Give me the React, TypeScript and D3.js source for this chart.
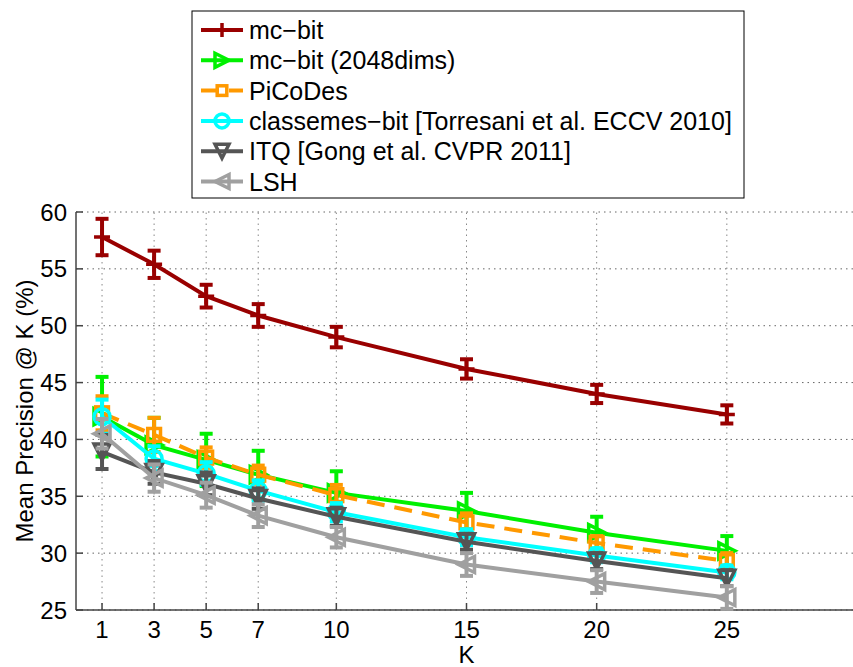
import React from 'react';
import * as d3 from 'd3';

const K = [1, 3, 5, 7, 10, 15, 20, 25];
const mcBit = [57.8, 55.4, 52.6, 50.9, 49.0, 46.2, 44.0, 42.2];
const mcBitErr = [1.6, 1.2, 1.0, 1.0, 0.9, 0.85, 0.8, 0.8];
const mcBit2048 = [42.0, 39.5, 38.2, 36.9, 35.3, 33.7, 31.8, 30.2];
const mcBit2048Err = [3.5, 2.4, 2.3, 2.1, 1.9, 1.6, 1.4, 1.3];
const picodes = [42.3, 40.4, 38.4, 36.9, 35.1, 32.7, 30.9, 29.3];
const picodesErr = [1.5, 1.5, 0.9, 0.8, 0.9, 0.8, 0.6, 0.7];
const classemes = [42.0, 38.3, 37.0, 35.5, 33.6, 31.4, 29.8, 28.3];
const classemesErr = [1.5, 1.1, 1.0, 0.9, 0.8, 0.7, 0.6, 0.6];
const itq = [38.9, 37.1, 36.1, 34.8, 33.2, 31.0, 29.3, 27.8];
const itqErr = [1.5, 1.0, 1.0, 0.9, 0.8, 0.7, 0.7, 0.7];
const lsh = [40.5, 36.6, 35.1, 33.3, 31.4, 29.0, 27.5, 26.1];
const lshErr = [1.3, 1.2, 1.1, 1.0, 0.9, 1.0, 1.0, 1.0];

const seriesNames = [
  'mc\u2212bit',
  'mc\u2212bit (2048dims)',
  'PiCoDes',
  'classemes\u2212bit [Torresani et al. ECCV 2010]',
  'ITQ [Gong et al. CVPR 2011]',
  'LSH',
];
const xTicks = [1, 3, 5, 7, 10, 15, 20, 25];
const yTicks = [25, 30, 35, 40, 45, 50, 55, 60];

const series = [
  { name: seriesNames[0], values: mcBit, err: mcBitErr, color: '#990000', marker: 'plus', dash: null },
  { name: seriesNames[1], values: mcBit2048, err: mcBit2048Err, color: '#00f000', marker: 'right', dash: null },
  { name: seriesNames[2], values: picodes, err: picodesErr, color: '#ff9900', marker: 'square', dash: '18,10' },
  { name: seriesNames[3], values: classemes, err: classemesErr, color: '#00ffff', marker: 'circle', dash: null },
  { name: seriesNames[4], values: itq, err: itqErr, color: '#555555', marker: 'down', dash: null },
  { name: seriesNames[5], values: lsh, err: lshErr, color: '#a0a0a0', marker: 'left', dash: null },
];

const FONT = '"Liberation Sans", Arial, Helvetica, sans-serif';

function Marker({ type, cx, cy, s, color }: { type: string; cx: number; cy: number; s: number; color: string }) {
  const common = { fill: 'none', stroke: color, strokeWidth: 3.5 };
  if (type === 'plus') {
    return <path d={`M${cx - s},${cy}H${cx + s}M${cx},${cy - s}V${cy + s}`} {...common} />;
  }
  if (type === 'circle') return <circle cx={cx} cy={cy} r={s} {...common} />;
  if (type === 'square') return <rect x={cx - s * 0.8} y={cy - s * 0.8} width={s * 1.6} height={s * 1.6} {...common} />;
  let pts: [number, number][] = [];
  if (type === 'right') pts = [[cx + s, cy], [cx - s, cy - s], [cx - s, cy + s]];
  if (type === 'left') pts = [[cx - s, cy], [cx + s, cy - s], [cx + s, cy + s]];
  if (type === 'down') pts = [[cx - s, cy - s], [cx + s, cy - s], [cx, cy + s]];
  return <path d={'M' + pts.map((p) => p.join(',')).join('L') + 'Z'} {...common} strokeLinejoin="miter" />;
}

export default function App() {
  const width = 853;
  const height = 667;
  const x = d3.scaleLinear().domain([0, 30]).range([76, 857]);
  const y = d3.scaleLinear().domain([25, 60]).range([610, 212]);
  const line = d3
    .line<number>()
    .x((_, i) => x(K[i]))
    .y((d) => y(d));

  const legendX = 192;
  const legendY = 11;
  const legendW = 552;
  const legendH = 187;
  const rowH = 30.3;

  return (
    <svg
      width={width}
      height={height}
      style={{ position: 'absolute', left: 0, top: 0, background: '#fff' }}
      fontFamily={FONT}
    >
      <rect x={0} y={0} width={width} height={height} fill="#fff" />
      {/* grid */}
      {yTicks.map((t) => (
        <line key={'gy' + t} x1={x(0)} x2={x(30)} y1={y(t)} y2={y(t)} stroke="#666" strokeWidth={1} strokeDasharray="1.5,4" />
      ))}
      {xTicks.map((t) => (
        <line key={'gx' + t} x1={x(t)} x2={x(t)} y1={y(25)} y2={y(60)} stroke="#888" strokeWidth={1} strokeDasharray="1.5,4" />
      ))}
      {/* axes */}
      <line x1={x(0)} x2={x(0)} y1={y(25)} y2={y(60)} stroke="#444" strokeWidth={1.5} />
      <line x1={x(0)} x2={x(30)} y1={y(25)} y2={y(25)} stroke="#444" strokeWidth={1.5} />
      {yTicks.map((t) => (
        <g key={'ty' + t}>
          <line x1={x(0)} x2={x(0) + 7} y1={y(t)} y2={y(t)} stroke="#444" strokeWidth={1.5} />
          <text x={67} y={y(t) + 8.5} textAnchor="end" fontSize={24} fill="#000">
            {t}
          </text>
        </g>
      ))}
      {xTicks.map((t) => (
        <g key={'tx' + t}>
          <line x1={x(t)} x2={x(t)} y1={y(25)} y2={y(25) - 7} stroke="#444" strokeWidth={1.5} />
          <text x={x(t)} y={638} textAnchor="middle" fontSize={24} fill="#000">
            {t}
          </text>
        </g>
      ))}
      <text x={x(15)} y={663} textAnchor="middle" fontSize={24} fill="#000">
        K
      </text>
      <text
        transform={`translate(33,${(y(25) + y(60)) / 2}) rotate(-90)`}
        textAnchor="middle"
        fontSize={24}
        fill="#000"
      >
        Mean Precision @ K (%)
      </text>

      {/* series */}
      {series.map((s) => (
        <g key={s.name}>
          <path d={line(s.values) || ''} fill="none" stroke={s.color} strokeWidth={4} strokeDasharray={s.dash || undefined} />
          {s.values.map((v, i) => {
            const cx = x(K[i]);
            const y1 = y(v + s.err[i]);
            const y2 = y(v - s.err[i]);
            return (
              <g key={i}>
                <line x1={cx} x2={cx} y1={y1} y2={y2} stroke={s.color} strokeWidth={4} />
                <line x1={cx - 6.5} x2={cx + 6.5} y1={y1} y2={y1} stroke={s.color} strokeWidth={4} />
                <line x1={cx - 6.5} x2={cx + 6.5} y1={y2} y2={y2} stroke={s.color} strokeWidth={4} />
                <Marker type={s.marker} cx={cx} cy={y(v)} s={8} color={s.color} />
              </g>
            );
          })}
        </g>
      ))}

      {/* legend */}
      <rect x={legendX} y={legendY} width={legendW} height={legendH} fill="#fff" stroke="#000" strokeWidth={1} />
      {series.map((s, i) => {
        const cy = legendY + 19 + i * rowH;
        return (
          <g key={'lg' + i}>
            <line x1={201} x2={243} y1={cy} y2={cy} stroke={s.color} strokeWidth={4} strokeDasharray={s.dash || undefined} />
            <Marker type={s.marker} cx={222} cy={cy} s={s.marker === 'square' ? 6 : 7} color={s.color} />
            <text x={249} y={cy + 9} fontSize={25} fill="#000">
              {s.name}
            </text>
          </g>
        );
      })}
    </svg>
  );
}
